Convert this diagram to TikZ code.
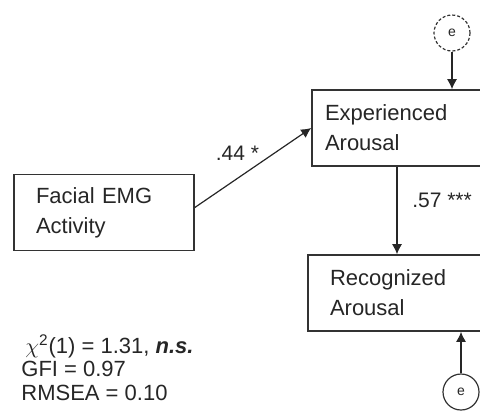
\documentclass[tikz,border=0pt]{standalone}
\usepackage{fontspec}
\setmainfont{Liberation Sans}
\usetikzlibrary{arrows.meta}
\begin{document}
\begin{tikzpicture}[x=0.5pt,y=-0.5pt,
  box/.style={draw=black!80, line width=0.8pt, rectangle, minimum height=38pt, inner ysep=0pt, align=left, font=\fontsize{11}{15}\selectfont, text=black!85},
  err/.style={circle, draw=black!80, line width=0.6pt, minimum size=18pt, inner sep=0pt, font=\fontsize{7}{8}\selectfont, text=black!85},
  arr/.style={-{Latex[length=5pt,width=5pt]}, line width=0.6pt, draw=black!85},
  lab/.style={font=\fontsize{10.5}{12}\selectfont, text=black!85},
  stat/.style={anchor=base west, inner sep=0pt, font=\fontsize{11}{12}\selectfont, text=black!85}]
\useasboundingbox (0,0) rectangle (480,414);
\clip (0,0) rectangle (480,414);
\node[box, text width=68pt, inner xsep=11pt] (emg) at (104,212.5) {Facial EMG\\Activity};
\node[box, text width=77pt, inner xsep=6.5pt] (exp) at (402,128) {Experienced\\Arousal};
\node[box, text width=68pt, inner xsep=11pt] (rec) at (398,293) {Recognized\\Arousal};
\node[err, dash pattern=on 1.5pt off 1pt] (e1) at (452,33) {e};
\node[err] (e2) at (461,392) {e};
\draw[arr] ([yshift=2.5pt]emg.east) -- (exp.west) node[lab, pos=0.4, above=4pt, xshift=-2pt] (l44) {.44 *};
\coordinate (s57) at ([xshift=-2.5pt]exp.south);
\draw[arr] (s57) -- (s57 |- rec.north) node[lab, pos=0.38, right=4pt] (l57) {.57 ***};
\draw[arr] (e1) -- (e1 |- exp.north);
\draw[arr] (e2) -- (e2 |- rec.south);
\node[stat] (st1) at (25,353) {$\chi$\textsuperscript{2}(1) = 1.31, \textbf{\textit{n.s.}}};
\node[stat] (st2) at (21,376) {GFI = 0.97};
\node[stat] (st3) at (21,400) {RMSEA = 0.10};
\end{tikzpicture}
\end{document}
